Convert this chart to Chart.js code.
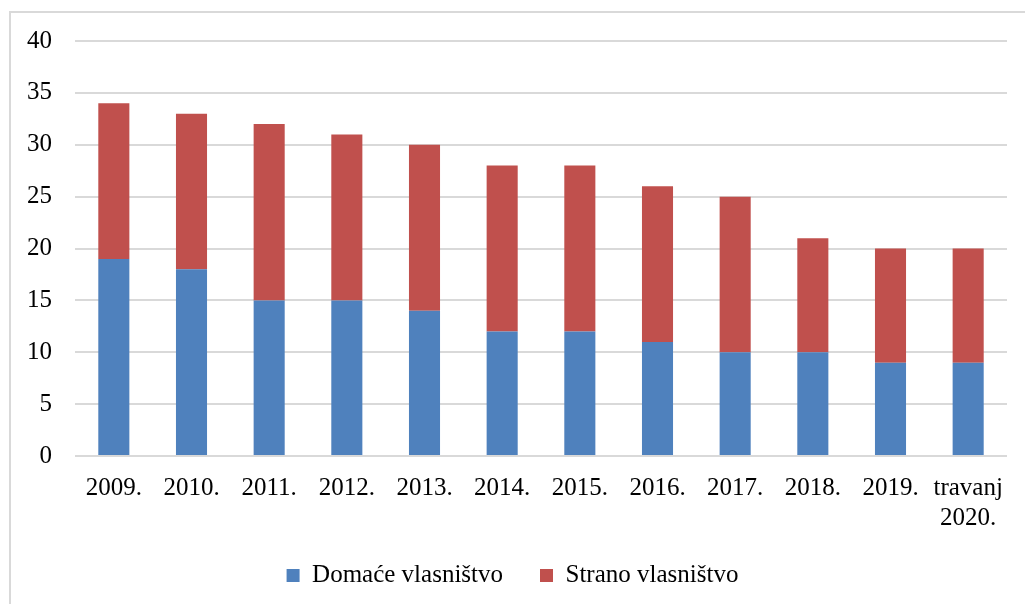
<!DOCTYPE html>
<html><head><meta charset="utf-8">
<script src="https://cdn.jsdelivr.net/npm/chart.js@4/dist/chart.umd.min.js"></script>
<style>
html,body{margin:0;padding:0;background:#fff;overflow:hidden}
#frame{position:absolute;left:9px;top:11px;width:1030px;height:620px;border:2px solid #d9d9d9;box-sizing:border-box}
#wrap{position:absolute;left:0;top:0;width:1025px;height:604px}
</style></head><body>
<div id="frame"></div>
<div id="wrap"><canvas id="c" width="1025" height="604"></canvas></div>
<script>
const categories = ["2009.","2010.","2011.","2012.","2013.","2014.","2015.","2016.","2017.","2018.","2019.",["travanj","2020."]];
const domace = [19,18,15,15,14,12,12,11,10,10,9,9];
const strano = [15,15,17,16,16,16,16,15,15,11,11,11];
const yTicks = [0,5,10,15,20,25,30,35,40];
const seriesNames = ["Domaće vlasništvo","Strano vlasništvo"];

const FONT = "'Liberation Serif','Times New Roman',serif";
Chart.defaults.font.family = FONT;
Chart.defaults.color = "#000";

new Chart(document.getElementById('c'), {
  type: 'bar',
  data: {
    labels: categories,
    datasets: [
      {label: seriesNames[0], data: domace, backgroundColor: '#4F81BD', barPercentage: 0.4, categoryPercentage: 1},
      {label: seriesNames[1], data: strano, backgroundColor: '#C0504D', barPercentage: 0.4, categoryPercentage: 1}
    ]
  },
  options: {
    responsive: false,
    animation: false,
    layout: {padding: {left: 18, right: 18, top: 41, bottom: 6}},
    plugins: {
      tooltip: {enabled: false},
      legend: {
        position: 'bottom',
        labels: {boxWidth: 13, boxHeight: 13, padding: 37, font: {size: 25, family: FONT}, color: '#000'}
      }
    },
    scales: {
      x: {
        stacked: true,
        afterFit: s => { s.height = 70; },
        grid: {display: false, drawTicks: false},
        border: {display: false},
        ticks: {font: {size: 25, family: FONT}, color: '#000', padding: 17, maxRotation: 0, autoSkip: false}
      },
      y: {
        stacked: true,
        min: 0, max: 40,
        afterBuildTicks: s => { s.ticks = yTicks.map(v => ({value: v})); },
        afterFit: s => { s.width = 57; },
        grid: {color: '#d9d9d9', lineWidth: 2, drawTicks: false},
        border: {display: false},
        ticks: {font: {size: 25, family: FONT}, color: '#000', padding: 23}
      }
    }
  }
});
</script>
</body></html>
